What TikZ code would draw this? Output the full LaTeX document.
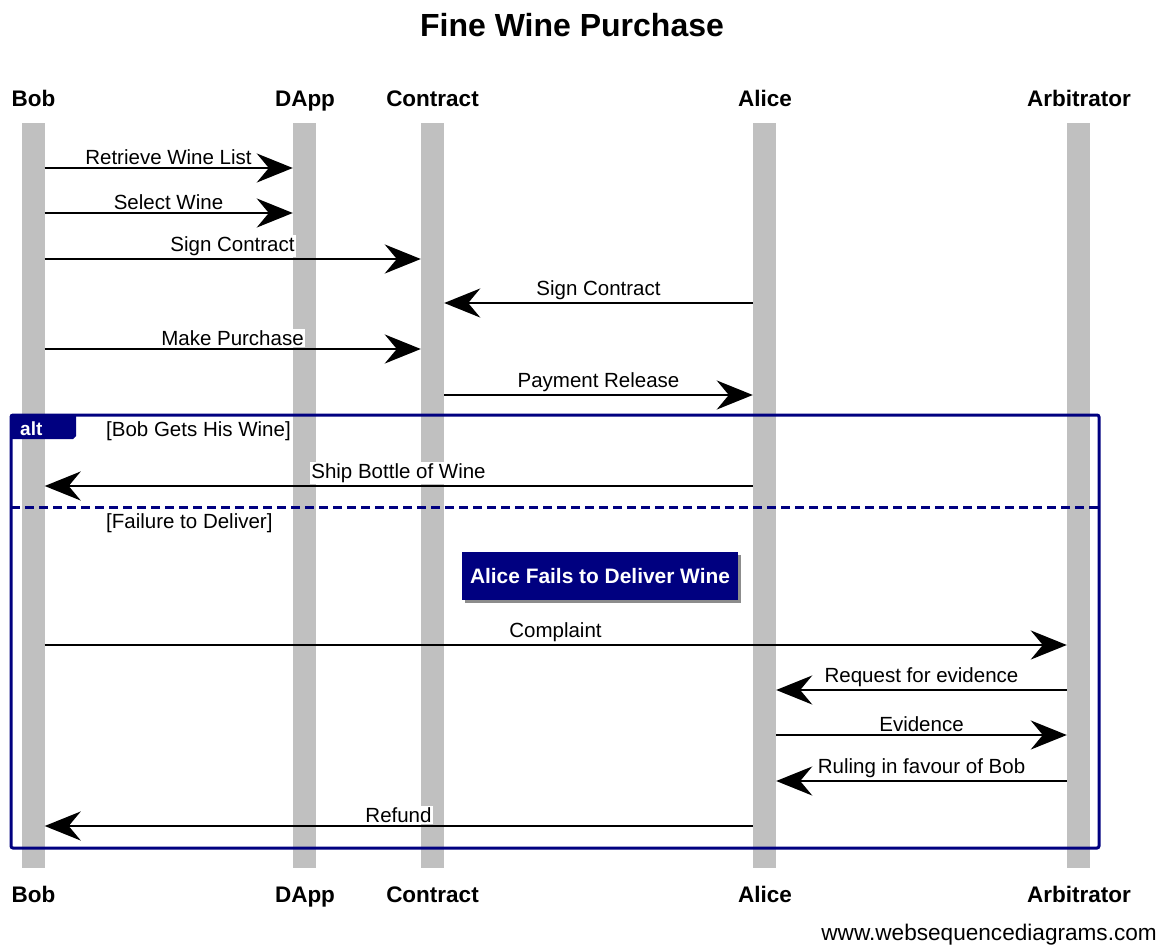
\documentclass[tikz,border=0pt]{standalone}
\usepackage{fontspec}
\setmainfont{Liberation Sans}
\usetikzlibrary{arrows.meta,shadows}
\definecolor{navy}{RGB}{0,0,128}
\definecolor{barg}{RGB}{192,192,192}
\begin{document}
\begin{tikzpicture}[x=1pt,y=-1pt,
  lifeline/.style={fill=barg,draw=none,minimum width=23pt,minimum height=745pt,inner sep=0pt,anchor=north},
  head/.style={font=\fontsize{22.5}{26}\selectfont\bfseries,anchor=base,inner sep=0pt},
  msg/.style={line width=2.5pt,-{Stealth[length=36pt,width=29pt,inset=12pt]}},
  lbl/.style={font=\fontsize{20.5}{24}\selectfont,fill=white,inner sep=1.5pt,anchor=south},
  altlbl/.style={font=\fontsize{20.5}{24}\selectfont,inner sep=0pt,anchor=base west},
  note/.style={fill=navy,text=white,font=\fontsize{20.9}{24}\selectfont\bfseries,minimum width=276pt,minimum height=48pt,inner sep=0pt,drop shadow={shadow xshift=3pt,shadow yshift=-3pt,fill=black!45,opacity=1}},
]
\useasboundingbox (0,0) rectangle (1167,945);

% title
\node[font=\fontsize{32}{36}\selectfont\bfseries,anchor=base,inner sep=0pt] (title) at (572,36) {Fine Wine Purchase};

% lifelines
\node[lifeline] (bob) at (33,123) {};
\node[lifeline] (dapp) at (304.5,123) {};
\node[lifeline] (contract) at (432.5,123) {};
\node[lifeline] (alice) at (764.5,123) {};
\node[lifeline] (arb) at (1078.5,123) {};

% headers
\node[head] (hbob) at (33.5,106) {Bob};
\node[head] (hdapp) at (305,106) {DApp};
\node[head] (hcontract) at (432.5,106) {Contract};
\node[head] (halice) at (765,106) {Alice};
\node[head] (harb) at (1079,106) {Arbitrator};
\node[head] (fbob) at (33.5,902) {Bob};
\node[head] (fdapp) at (305,902) {DApp};
\node[head] (fcontract) at (432.5,902) {Contract};
\node[head] (falice) at (765,902) {Alice};
\node[head] (farb) at (1079,902) {Arbitrator};

% message labels
\node[lbl] (l1) at (168.5,166.5) {Retrieve Wine List};
\node[lbl] (l2) at (168.5,211.5) {Select Wine};
\node[lbl] (l3) at (232.5,257.5) {Sign Contract};
\node[lbl] (l4) at (598.5,301.5) {Sign Contract};
\node[lbl] (l5) at (232.5,347.5) {Make Purchase};
\node[lbl] (l6) at (598.5,393.5) {Payment Release};
\node[lbl] (l7) at (398.5,484.5) {Ship Bottle of Wine};
\node[lbl] (l8) at (555.5,643.5) {Complaint};
\node[lbl] (l9) at (921.5,688.5) {Request for evidence};
\node[lbl] (l10) at (921.5,733.5) {Evidence};
\node[lbl] (l11) at (921.5,779.5) {Ruling in favour of Bob};
\node[lbl] (l12) at (398.5,824.5) {Refund};

% messages
\draw[msg] (bob.east |- 0,168) -- (dapp.west |- 0,168);
\draw[msg] (bob.east |- 0,213) -- (dapp.west |- 0,213);
\draw[msg] (bob.east |- 0,259) -- (contract.west |- 0,259);
\draw[msg] (alice.west |- 0,303) -- (contract.east |- 0,303);
\draw[msg] (bob.east |- 0,349) -- (contract.west |- 0,349);
\draw[msg] (contract.east |- 0,395) -- (alice.west |- 0,395);
\draw[msg] (alice.west |- 0,486) -- (bob.east |- 0,486);
\draw[msg] (bob.east |- 0,645) -- (arb.west |- 0,645);
\draw[msg] (arb.west |- 0,690) -- (alice.east |- 0,690);
\draw[msg] (alice.east |- 0,735) -- (arb.west |- 0,735);
\draw[msg] (arb.west |- 0,781) -- (alice.east |- 0,781);
\draw[msg] (alice.west |- 0,826) -- (bob.east |- 0,826);

% alt frame
\draw[navy,line width=3pt,rounded corners=2pt] (11,415) rectangle (1099,848);
\fill[navy] (11,415) -- (76,415) -- (76,436) -- (73,439) -- (11,439) -- cycle;
\node[font=\fontsize{19}{22}\selectfont\bfseries,text=white,anchor=base west,inner sep=0pt] (alt) at (20,435) {alt};
\node[altlbl] (g1) at (106,436) {[Bob Gets His Wine]};
\draw[navy,line width=3pt,dash pattern=on 9pt off 5pt] (11,507) -- (1099,507);
\node[altlbl] (g2) at (106,528) {[Failure to Deliver]};

% note
\node[note] (n1) at (600,576) {Alice Fails to Deliver Wine};

% footer
\node[font=\fontsize{22.6}{26}\selectfont,anchor=base east,inner sep=0pt] (wsd) at (1157,940) {www.websequencediagrams.com};
\end{tikzpicture}
\end{document}
